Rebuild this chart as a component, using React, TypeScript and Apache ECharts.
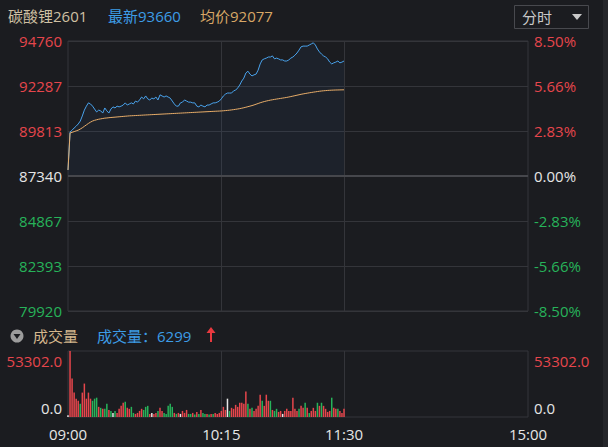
import React, { useEffect, useRef } from "react";
import * as echarts from "echarts";

// ---- data ----
const sessions: [string, string][] = [
  ["09:00", "10:15"],
  ["10:31", "11:30"],
  ["13:31", "15:00"],
];
const xTickLabels = ["09:00", "10:15", "11:30", "15:00"];
const prevClose = 87340;
const priceMin = 79920;
const priceMax = 94760;
const priceTickLabels = ["79920", "82393", "84867", "87340", "89813", "92287", "94760"];
const pctTickLabels = ["-8.50%", "-5.66%", "-2.83%", "0.00%", "2.83%", "5.66%", "8.50%"];
const volMax = 53302;
const volTickLabels = ["0.0", "53302.0"];

const priceSeries = [
  87670, 89760, 89860, 89980, 90080, 90200, 90360, 90640, 90960, 91180,
  91360, 91300, 91180, 91020, 90860, 90960, 90920, 90800, 91080, 90920,
  90800, 91020, 91140, 91080, 91180, 91140, 91180, 91240, 91360, 91240,
  91300, 91360, 91300, 91460, 91400, 91520, 91680, 91580, 91740, 91580,
  91520, 91620, 91580, 91680, 91520, 91800, 91740, 91680, 91740, 91680,
  91620, 91460, 91300, 91180, 91180, 91360, 91400, 91520, 91460, 91400,
  91400, 91360, 91360, 91180, 91140, 91240, 91180, 91140, 91240, 91240,
  91300, 91360, 91360, 91400, 91460, 91580, 91740, 91840, 91900, 91900,
  91900, 92020, 92060, 92180, 92340, 92560, 92720, 93000, 93100, 92940,
  92840, 92900, 92940, 93160, 93500, 93720, 93780, 93820, 93880, 93880,
  93940, 93780, 93820, 93780, 93720, 93720, 93660, 93660, 93720, 93820,
  93880, 93980, 94100, 94260, 94440, 94480, 94480, 94480, 94540, 94600,
  94660, 94540, 94320, 94160, 94040, 93940, 93880, 93780, 93600, 93500,
  93560, 93600, 93660, 93560, 93600, 93660,
];

const avgSeries = [
  87670, 89700, 89740, 89780, 89820, 89860, 89920, 89990, 90070, 90150,
  90230, 90300, 90360, 90400, 90430, 90460, 90480, 90500, 90520, 90530,
  90545, 90555, 90565, 90575, 90585, 90595, 90605, 90615, 90625, 90635,
  90645, 90651, 90657, 90663, 90669, 90675, 90681, 90688, 90694, 90700,
  90706, 90712, 90718, 90724, 90730, 90736, 90742, 90748, 90754, 90760,
  90766, 90772, 90778, 90784, 90790, 90796, 90802, 90808, 90814, 90820,
  90826, 90832, 90838, 90844, 90850, 90856, 90862, 90868, 90874, 90880,
  90886, 90892, 90898, 90904, 90910, 90916, 90925, 90935, 90946, 90958,
  90972, 90988, 91005, 91023, 91043, 91066, 91092, 91120, 91150, 91180,
  91210, 91245, 91285, 91325, 91365, 91400, 91432, 91460, 91485, 91510,
  91530, 91550, 91568, 91586, 91604, 91622, 91640, 91660, 91682, 91706,
  91730, 91755, 91780, 91805, 91830, 91852, 91872, 91892, 91912, 91930,
  91948, 91965, 91982, 91998, 92012, 92024, 92034, 92043, 92051, 92057,
  92062, 92066, 92069, 92072, 92075, 92077,
];

const volumeSeries = [
  1500, 53302, 31000, 19700, 14800, 13100, 10700, 19700, 27000, 14800,
  19700, 14800, 13100, 14800, 15600, 8200, 7400, 6600, 6600, 10700,
  5700, 4900, 3300, 4900, 3300, 6600, 9000, 11500, 12300, 7400,
  6600, 8200, 3300, 2500, 3300, 4900, 6600, 5700, 8200, 9000,
  2500, 3300, 2500, 3300, 4900, 7400, 4900, 3300, 2500, 9000,
  10700, 8200, 3300, 2500, 3300, 2500, 4900, 3300, 5700, 2500,
  2500, 3300, 2000, 4100, 2500, 5700, 3300, 2500, 2500, 2000,
  2500, 2500, 3300, 2500, 3300, 4900, 8200, 5700, 14800, 4900,
  7400, 6600, 9800, 8200, 11500, 11500, 10700, 20500, 10700, 6600,
  7400, 4900, 6600, 9000, 18000, 13100, 9000, 18000, 13100, 13100,
  5700, 4900, 6600, 4100, 4900, 2500, 4900, 6600, 4900, 4900,
  15600, 6600, 4900, 6600, 9000, 7400, 11500, 7400, 3300, 4900,
  7400, 4900, 11500, 9000, 11500, 9000, 6600, 4100, 4900, 15600,
  7400, 6600, 6600, 4900, 3300, 6600,
];

// 1 = up (red), -1 = down (green), 0 = flat (white)
const volumeDirection = [
  0, 1, 1, 1, 1, 1, -1, 1, 1, 1,
  1, 1, -1, -1, -1, 1, -1, 1, -1, -1,
  1, -1, 0, -1, 1, 1, 1, 1, -1, 1,
  1, -1, -1, 1, 1, 1, 1, -1, -1, -1,
  1, 0, 1, 1, -1, 1, 1, -1, -1, -1,
  -1, -1, 1, -1, 1, 0, 1, 1, 1, -1,
  -1, 1, -1, 1, -1, 1, -1, -1, 1, -1,
  1, -1, 1, 1, 1, 1, 1, 1, 0, -1,
  1, 1, 1, 1, 1, 1, 1, 1, -1, 1,
  -1, 1, 1, 1, 1, -1, 1, 1, 1, -1,
  1, -1, -1, 1, 1, 0, 1, 1, 1, 1,
  1, 1, 1, -1, 1, 1, -1, 1, -1, 1,
  1, 1, -1, 1, -1, 1, 1, 1, 1, -1,
  1, 1, -1, 1, 1, 1,
];

// ---- styles ----
const BG = "#1b1c20";
const GRID = "#34353a";
const RED = "#e6464c";
const GREEN = "#27b35a";
const WHITE = "#e6e6e6";
const FONT = "'Open Sans', 'Noto Sans CJK SC', sans-serif";

function buildMinutes(): string[] {
  const out: string[] = [];
  const toMin = (s: string) => {
    const [h, m] = s.split(":").map(Number);
    return h * 60 + m;
  };
  const fmt = (t: number) =>
    String(Math.floor(t / 60)).padStart(2, "0") + ":" + String(t % 60).padStart(2, "0");
  for (const [a, b] of sessions) {
    for (let t = toMin(a); t <= toMin(b); t++) out.push(fmt(t));
  }
  return out;
}

export default function App() {
  const ref = useRef<HTMLDivElement>(null);
  useEffect(() => {
    document.body.style.margin = "0";
    document.body.style.background = BG;
    if (!ref.current) return;
    const chart = echarts.init(ref.current, undefined, { renderer: "svg" });
    const minutes = buildMinutes();
    const innerTicks = xTickLabels.slice(1, -1);
    const dirColor = (d: number) => (d > 0 ? RED : d < 0 ? GREEN : WHITE);
    const priceColor = (v: any) => {
      const n = Math.round(Number(v));
      return n > 0 ? RED : n < 0 ? GREEN : WHITE;
    };

    chart.setOption({
      animation: false,
      backgroundColor: BG,
      textStyle: { fontFamily: FONT },
      grid: [
        { left: 68, top: 41, width: 460, height: 270, show: true, borderColor: GRID, borderWidth: 1, backgroundColor: "transparent" },
        { left: 68, top: 351, width: 460, height: 66, show: true, borderColor: GRID, borderWidth: 1, backgroundColor: "transparent" },
      ],
      xAxis: [
        {
          type: "category", gridIndex: 0, data: minutes, boundaryGap: false,
          axisLine: { show: false }, axisTick: { show: false }, axisLabel: { show: false },
          splitLine: { show: true, interval: (_i: number, v: string) => innerTicks.includes(v), lineStyle: { color: GRID, width: 1 } },
        },
        {
          type: "category", gridIndex: 1, data: minutes, boundaryGap: false,
          axisLine: { show: false }, axisTick: { show: false },
          axisLabel: {
            interval: (_i: number, v: string) => xTickLabels.includes(v),
            color: WHITE, fontSize: 15, margin: 9, fontFamily: FONT,
          },
          splitLine: { show: true, interval: (_i: number, v: string) => innerTicks.includes(v), lineStyle: { color: GRID, width: 1 } },
        },
      ],
      yAxis: [
        { type: "value", gridIndex: 0, min: priceMin, max: priceMax, show: false, splitLine: { show: false } },
        {
          type: "value", gridIndex: 0, position: "left", min: -3, max: 3, interval: 1,
          axisLine: { show: false }, axisTick: { show: false },
          axisLabel: {
            formatter: (v: number) => priceTickLabels[Math.round(v) + 3],
            color: priceColor, fontSize: 15, margin: 6, fontFamily: FONT,
          },
          splitLine: { show: true, lineStyle: { color: GRID, width: 1 } },
        },
        {
          type: "value", gridIndex: 0, position: "right", min: -3, max: 3, interval: 1,
          axisLine: { show: false }, axisTick: { show: false },
          axisLabel: {
            formatter: (v: number) => pctTickLabels[Math.round(v) + 3],
            color: priceColor, fontSize: 15, margin: 6, fontFamily: FONT,
          },
          splitLine: { show: false },
        },
        {
          type: "value", gridIndex: 1, position: "left", min: 0, max: volMax, interval: volMax,
          axisLine: { show: false }, axisTick: { show: false }, splitLine: { show: false },
          axisLabel: {
            margin: 6, fontSize: 15, fontFamily: FONT,
            formatter: (v: number) => (v > 0 ? "{t|" + volTickLabels[1] + "}" : "{b|" + volTickLabels[0] + "}"),
            rich: {
              t: { color: RED, fontSize: 15, fontFamily: FONT, padding: [20, 0, 0, 0] },
              b: { color: WHITE, fontSize: 15, fontFamily: FONT, padding: [0, 0, 18, 0] },
            },
          },
        },
        {
          type: "value", gridIndex: 1, position: "right", min: 0, max: volMax, interval: volMax,
          axisLine: { show: false }, axisTick: { show: false }, splitLine: { show: false },
          axisLabel: {
            margin: 6, fontSize: 15, fontFamily: FONT,
            formatter: (v: number) => (v > 0 ? "{t|" + volTickLabels[1] + "}" : "{b|" + volTickLabels[0] + "}"),
            rich: {
              t: { color: RED, fontSize: 15, fontFamily: FONT, padding: [20, 0, 0, 0] },
              b: { color: WHITE, fontSize: 15, fontFamily: FONT, padding: [0, 0, 18, 0] },
            },
          },
        },
      ],
      series: [
        {
          name: "最新", type: "line", xAxisIndex: 0, yAxisIndex: 0, data: priceSeries,
          showSymbol: false, symbol: "none",
          lineStyle: { color: "#4aa3ec", width: 1 },
          areaStyle: { origin: prevClose, color: "rgba(60,120,200,0.10)" },
          markLine: {
            silent: true, symbol: ["none", "none"], label: { show: false },
            lineStyle: { color: "#46474c", width: 2, type: "solid" },
            data: [{ yAxis: prevClose }],
          },
        },
        {
          name: "均价", type: "line", xAxisIndex: 0, yAxisIndex: 0, data: avgSeries,
          showSymbol: false, symbol: "none",
          lineStyle: { color: "#e8ad69", width: 1 },
        },
        {
          name: "成交量", type: "bar", xAxisIndex: 1, yAxisIndex: 3, barWidth: 1.5,
          data: volumeSeries.map((v, i) => ({ value: v, itemStyle: { color: dirColor(volumeDirection[i]) } })),
        },
      ],
      graphic: [
        { type: "rect", shape: { x: 603, y: 0, width: 5, height: 447 }, style: { fill: "#25262a" } },
        { type: "text", x: 8, y: 16, style: { text: "碳酸锂2601", fill: "#cfc0a3", font: `15px ${FONT}`, verticalAlign: "middle" } },
        { type: "text", x: 108, y: 16, style: { text: "最新93660", fill: "#3d9ce6", font: `15px ${FONT}`, verticalAlign: "middle" } },
        { type: "text", x: 200, y: 16, style: { text: "均价92077", fill: "#d7a766", font: `15px ${FONT}`, verticalAlign: "middle" } },
        { type: "rect", shape: { x: 514.5, y: 5.5, width: 74, height: 23 }, style: { fill: "none", stroke: "#48494e", lineWidth: 1 } },
        { type: "text", x: 522, y: 17, style: { text: "分时", fill: "#c9c9c9", font: `15px ${FONT}`, verticalAlign: "middle" } },
        { type: "polygon", shape: { points: [[572, 14], [582, 14], [577, 20]] }, style: { fill: "#c9c9c9" } },
        { type: "circle", shape: { cx: 17, cy: 336, r: 6.5 }, style: { fill: "#9c9c9c" } },
        { type: "polygon", shape: { points: [[13.5, 334], [20.5, 334], [17, 339]] }, style: { fill: BG } },
        { type: "text", x: 33, y: 336, style: { text: "成交量", fill: "#d4b68c", font: `15px ${FONT}`, verticalAlign: "middle" } },
        { type: "text", x: 97, y: 336, style: { text: "成交量：6299", fill: "#3d9ce6", font: `15px ${FONT}`, verticalAlign: "middle" } },
        { type: "polygon", shape: { points: [[206.5, 333], [215.5, 333], [211, 327]] }, style: { fill: "#e8393f" } },
        { type: "rect", shape: { x: 210, y: 332, width: 2, height: 10 }, style: { fill: "#e8393f" } },
      ],
    });
    return () => chart.dispose();
  }, []);
  return <div ref={ref} style={{ position: "fixed", left: 0, top: 0, width: 608, height: 447 }} />;
}
